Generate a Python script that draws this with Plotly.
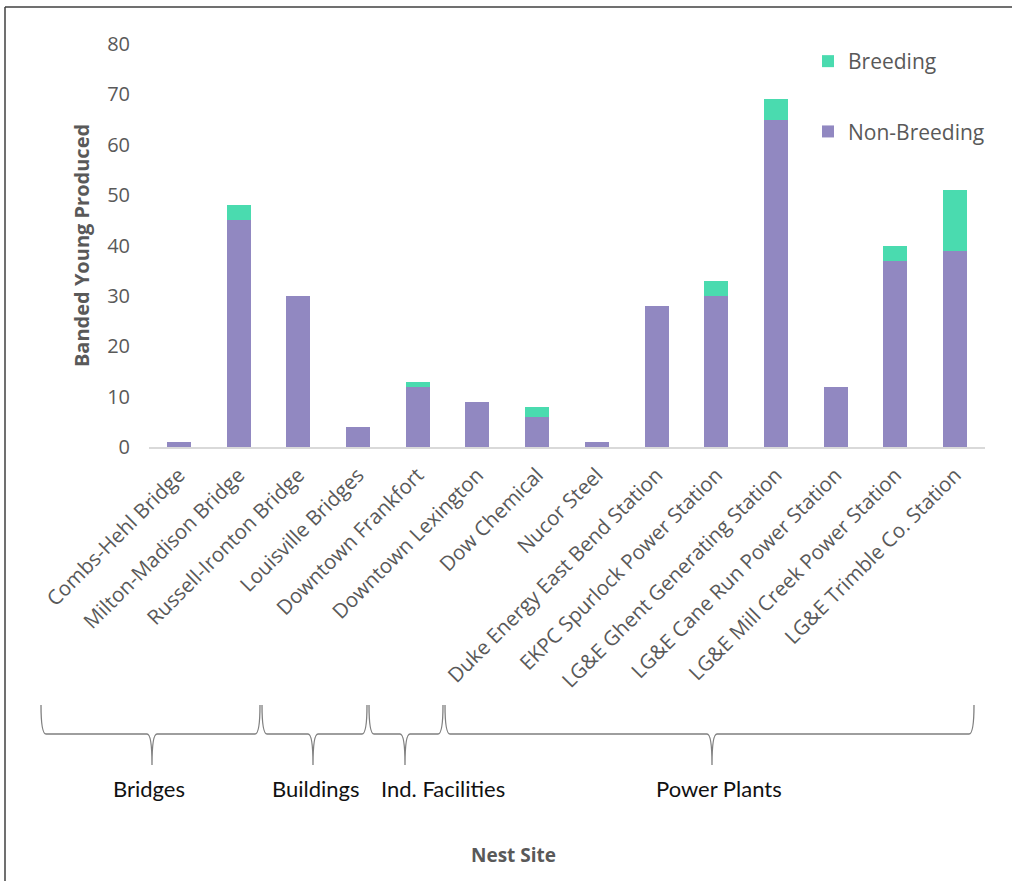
import plotly.graph_objects as go

sites = ["Combs-Hehl Bridge", "Milton-Madison Bridge", "Russell-Ironton Bridge",
         "Louisville Bridges", "Downtown Frankfort", "Downtown Lexington",
         "Dow Chemical", "Nucor Steel", "Duke Energy East Bend Station",
         "EKPC Spurlock Power Station", "LG&E Ghent Generating Station",
         "LG&E Cane Run Power Station", "LG&E Mill Creek Power Station",
         "LG&E Trimble Co. Station"]
non_breeding = [1, 45, 30, 4, 12, 9, 6, 1, 28, 30, 65, 12, 37, 39]
breeding = [0, 3, 0, 0, 1, 0, 2, 0, 0, 3, 4, 0, 3, 12]
y_ticks = [0, 10, 20, 30, 40, 50, 60, 70, 80]
groups = ["Bridges", "Buildings", "Ind. Facilities", "Power Plants"]

W, H = 1012, 881
L, R, T, B = 149, 985, 44, 447  # plot area in pixels


def px(x):
    return (x - L) / (R - L)


def py(y):
    return (B - y) / (B - T)


# brace geometry in pixels (left, center, right)
brace_px = [(41, 152, 260), (262, 313, 367), (369, 405, 443), (445, 712, 974)]
label_x = [149, 316, 443, 719]
y_top, y_mid, y_tip = 705, 734, 765
label_y = 788


def brace_path(x0, xc, x1):
    r = 5
    pts = [
        f"M{px(x0)},{py(y_top)}",
        f"Q{px(x0)},{py(y_mid)} {px(x0 + r)},{py(y_mid)}",
        f"L{px(xc - r)},{py(y_mid)}",
        f"Q{px(xc)},{py(y_mid)} {px(xc)},{py(y_tip)}",
        f"Q{px(xc)},{py(y_mid)} {px(xc + r)},{py(y_mid)}",
        f"L{px(x1 - r)},{py(y_mid)}",
        f"Q{px(x1)},{py(y_mid)} {px(x1)},{py(y_top)}",
    ]
    return " ".join(pts)


purple = "#9188c1"
green = "#4adbaf"
gray = "#595959"

fig = go.Figure()
fig.add_trace(go.Bar(x=sites, y=non_breeding, name="Non-Breeding",
                     marker=dict(color=purple, line=dict(width=0)),
                     legendgroup="nb", legendrank=2))
fig.add_trace(go.Bar(x=sites, y=breeding, name="Breeding",
                     marker=dict(color=green, line=dict(width=0)),
                     legendgroup="b", legendrank=1))

shapes = []
for (x0, xc, x1) in brace_px:
    shapes.append(dict(type="path", xref="paper", yref="paper",
                       path=brace_path(x0, xc, x1),
                       line=dict(color="#7f7f7f", width=1.3)))
# outer frame lines
shapes.append(dict(type="line", xref="paper", yref="paper",
                   x0=px(5), x1=px(5), y0=py(7), y1=py(H + 5),
                   line=dict(color="#404040", width=1.5)))
shapes.append(dict(type="line", xref="paper", yref="paper",
                   x0=px(5), x1=px(W + 5), y0=py(7), y1=py(7),
                   line=dict(color="#404040", width=1.5)))

annotations = []
for lx, g in zip(label_x, groups):
    annotations.append(dict(text=g, xref="paper", yref="paper",
                            x=px(lx), y=py(label_y),
                            showarrow=False, xanchor="center", yanchor="middle",
                            font=dict(family="Lato, sans-serif",
                                      size=22, color="#111111")))
annotations.append(dict(text="<b>Nest Site</b>", xref="paper", yref="paper",
                        x=px(513), y=py(855), showarrow=False,
                        xanchor="center", yanchor="middle",
                        font=dict(family="Open Sans", size=19, color=gray)))

fig.update_layout(
    width=W, height=H,
    margin=dict(l=L, r=W - R, t=T, b=H - B),
    barmode="stack",
    bargap=0.6,
    plot_bgcolor="white",
    paper_bgcolor="white",
    font=dict(family="Open Sans", color=gray),
    shapes=shapes,
    annotations=annotations,
    legend=dict(x=px(808), y=py(41), xanchor="left", yanchor="top",
                traceorder="grouped", tracegroupgap=40,
                font=dict(size=21, color=gray), bgcolor="rgba(0,0,0,0)",
                itemwidth=30),
    xaxis=dict(tickangle=-45, tickfont=dict(size=20.5, color=gray),
               showline=True, linecolor="#d9d9d9", linewidth=2,
               showgrid=False, ticks="", zeroline=False, ticklabelstandoff=6,
               range=[-0.5, len(sites) - 0.5]),
    yaxis=dict(range=[0, 80], tickvals=y_ticks, showgrid=False,
               zeroline=False, showline=False, ticks="",
               tickfont=dict(size=20, color=gray), ticklabelstandoff=18,
               title=dict(text="<b>Banded Young Produced</b>",
                          font=dict(size=20, color=gray), standoff=12)),
)

fig.write_html("out.html")
